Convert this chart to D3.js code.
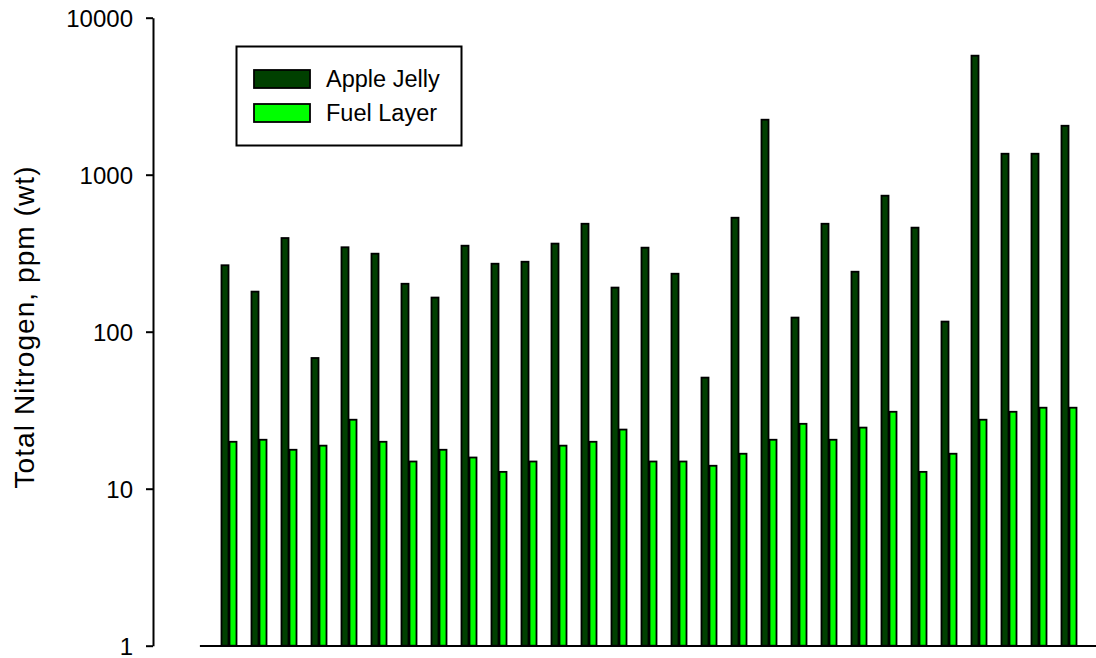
<!DOCTYPE html>
<html>
<head>
<meta charset="utf-8">
<script src="https://cdn.jsdelivr.net/npm/d3@7"></script>
<style>
  html, body { margin: 0; padding: 0; background: #fff; }
  svg { display: block; }
  text { font-family: "Liberation Sans", Arial, sans-serif; fill: #000; }
</style>
</head>
<body>
<svg id="chart" width="1096" height="658"></svg>
<script>
// ---- data ----
const categories = [1,2,3,4,5,6,7,8,9,10,11,12,13,14,15,16,17,18,19,20,21,22,23,24,25,26,27,28,29];
const appleJelly = [265,180,395,68,345,314,202,165,353,271,279,364,487,191,343,234,51,532,2240,123,487,241,735,460,116,5730,1360,1360,2050];
const fuelLayer  = [19.9,20.5,17.7,18.8,27.5,19.9,14.9,17.7,15.8,12.8,14.9,18.8,19.9,23.8,14.9,14.9,14.0,16.7,20.5,25.9,20.5,24.5,30.9,12.8,16.7,27.5,30.9,32.8,32.8];
const seriesNames = ["Apple Jelly", "Fuel Layer"];
const seriesColors = ["#004000", "#00ff00"];
const yTicks = [1, 10, 100, 1000, 10000];
const yLabel = "Total Nitrogen, ppm (wt)";

// ---- layout ----
const svg = d3.select("#chart");
const y = d3.scaleLog().domain([1, 10000]).range([645.7, 17.7]);
const x = d3.scaleLinear().domain([0, 30]).range([199, 1099]);
const barW = 7;

// bars
const series = [appleJelly, fuelLayer];
series.forEach((vals, s) => {
  svg.append("g").selectAll("rect")
    .data(vals)
    .join("rect")
    .attr("x", (d, i) => x(categories[i]) + (s === 0 ? -barW - 0.5 : 0.5))
    .attr("y", d => y(d))
    .attr("width", barW)
    .attr("height", d => y(1) - y(d))
    .attr("fill", seriesColors[s])
    .attr("stroke", "#000")
    .attr("stroke-width", 1.8);
});

// y axis
const yAxis = d3.axisLeft(y)
  .tickValues(yTicks)
  .tickFormat(d3.format("d"))
  .tickSize(7)
  .tickSizeOuter(0)
  .tickPadding(13);
const gy = svg.append("g").attr("transform", "translate(153,0)").call(yAxis);
gy.select(".domain").attr("stroke", "#000").attr("stroke-width", 2);
gy.selectAll(".tick line").attr("stroke", "#000").attr("stroke-width", 2);
gy.selectAll(".tick text")
  .attr("font-size", 24)
  .attr("font-family", "'Liberation Sans', Arial, sans-serif")
  .attr("dy", "0.36em");

// x axis (line only)
const xAxis = d3.axisBottom(x).tickValues([]).tickSizeOuter(0);
const gx = svg.append("g").attr("transform", "translate(0,646)").call(xAxis);
gx.select(".domain").attr("stroke", "#000").attr("stroke-width", 2)
  .attr("d", `M${x(0.03)},0H${x(30)}`);

// y label
svg.append("text")
  .attr("transform", "translate(34,327.5) rotate(-90)")
  .attr("text-anchor", "middle")
  .attr("font-size", 28)
  .attr("textLength", 322)
  .attr("lengthAdjust", "spacing")
  .text(yLabel);

// legend
const lg = svg.append("g");
lg.append("rect")
  .attr("x", 236.5).attr("y", 46.5)
  .attr("width", 225).attr("height", 99)
  .attr("fill", "#fff").attr("stroke", "#000").attr("stroke-width", 2);
seriesNames.forEach((name, i) => {
  lg.append("rect")
    .attr("x", 254).attr("y", 70 + i * 34)
    .attr("width", 56).attr("height", 18)
    .attr("fill", seriesColors[i])
    .attr("stroke", "#000").attr("stroke-width", 1.8);
  lg.append("text")
    .attr("x", 326).attr("y", 87 + i * 34)
    .attr("font-size", 23.5)
    .text(name);
});
</script>
</body>
</html>
